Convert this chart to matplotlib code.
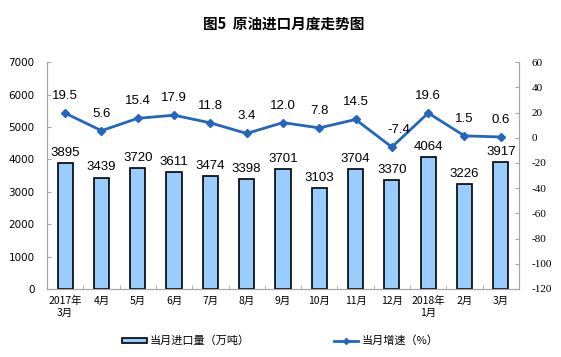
"""原油进口月度走势图"""

import matplotlib
matplotlib.use('Agg')
import matplotlib.pyplot as plt
import numpy as np
from matplotlib.lines import Line2D
from matplotlib.patches import Patch

plt.rcParams['font.family'] = ['Noto Sans CJK SC', 'DejaVu Sans']
plt.rcParams['axes.unicode_minus'] = False

months = ['2017年\n3月', '4月', '5月', '6月', '7月', '8月', '9月', '10月',
          '11月', '12月', '2018年\n1月', '2月', '3月']
imports = [3895, 3439, 3720, 3611, 3474, 3398, 3701, 3103, 3704, 3370, 4064, 3226, 3917]
growth = [19.5, 5.6, 15.4, 17.9, 11.8, 3.4, 12.0, 7.8, 14.5, -7.4, 19.6, 1.5, 0.6]

bar_color = '#99CCFF'
line_color = '#2366BE'
axis_color = '#A6A6A6'

fig = plt.figure(figsize=(5.61, 3.57), dpi=100)
ax = fig.add_axes([0.0838, 0.1905, 0.8412, 0.6355])
ax2 = ax.twinx()

x = np.arange(len(months))

# 柱状图：当月进口量
ax.bar(x, imports, width=0.42, color=bar_color, edgecolor='black', linewidth=1.2, zorder=2)
for xi, v in zip(x, imports):
    ax.annotate(str(v), (xi, v), xytext=(0, 3), textcoords='offset points',
                ha='center', va='bottom', fontsize=9.5, family='Liberation Sans')

ax.set_xlim(-0.5, len(months) - 0.5)
ax.set_ylim(0, 7000)
ax.set_yticks(range(0, 7001, 1000))
ax.set_xticks(x)
ax.set_xticklabels(months, fontsize=7.5, linespacing=1.3)
ax.set_xticks(np.arange(-0.5, len(months), 1), minor=True)
ax.tick_params(axis='x', which='major', length=0, pad=5)
ax.tick_params(axis='x', which='minor', direction='in', length=3, color=axis_color)
ax.tick_params(axis='y', direction='in', length=3, color=axis_color, labelsize=7.5, pad=9)
for lab in ax.get_yticklabels():
    lab.set_family('DejaVu Sans')

# 折线图：当月增速
ax2.plot(x, growth, color=line_color, linewidth=2, marker='D', markersize=4, zorder=3)
for xi, v in zip(x, growth):
    dx = 5 if v < 0 else 0
    ax2.annotate(f'{v:.1f}', (xi, v), xytext=(dx, 8), textcoords='offset points',
                 ha='center', va='bottom', fontsize=9.5, family='Liberation Sans')
ax2.set_ylim(-120, 60)
ax2.set_yticks(range(-120, 61, 20))
ax2.tick_params(axis='y', direction='in', length=3, color=axis_color, labelsize=8, pad=9)
for lab in ax2.get_yticklabels():
    lab.set_family('Liberation Serif')

for a in (ax, ax2):
    a.spines['top'].set_visible(False)
    for s in ('left', 'right', 'bottom'):
        a.spines[s].set_color(axis_color)

fig.text(0.505, 0.935, '图5  原油进口月度走势图', ha='center', va='center',
         fontsize=10.5, fontweight='bold')

handles = [Patch(facecolor=bar_color, edgecolor='black', linewidth=1.2),
           Line2D([0], [0], color=line_color, linewidth=2, marker='D', markersize=3)]
fig.legend(handles, ['当月进口量（万吨）', '当月增速（%）'], loc='center left',
           bbox_to_anchor=(0.218, 0.045), ncol=2, frameon=False, fontsize=8,
           handlelength=2.2, handleheight=0.4, columnspacing=7.5, handletextpad=0.3,
           borderpad=0, borderaxespad=0)

plt.savefig('out.png', dpi=100)
